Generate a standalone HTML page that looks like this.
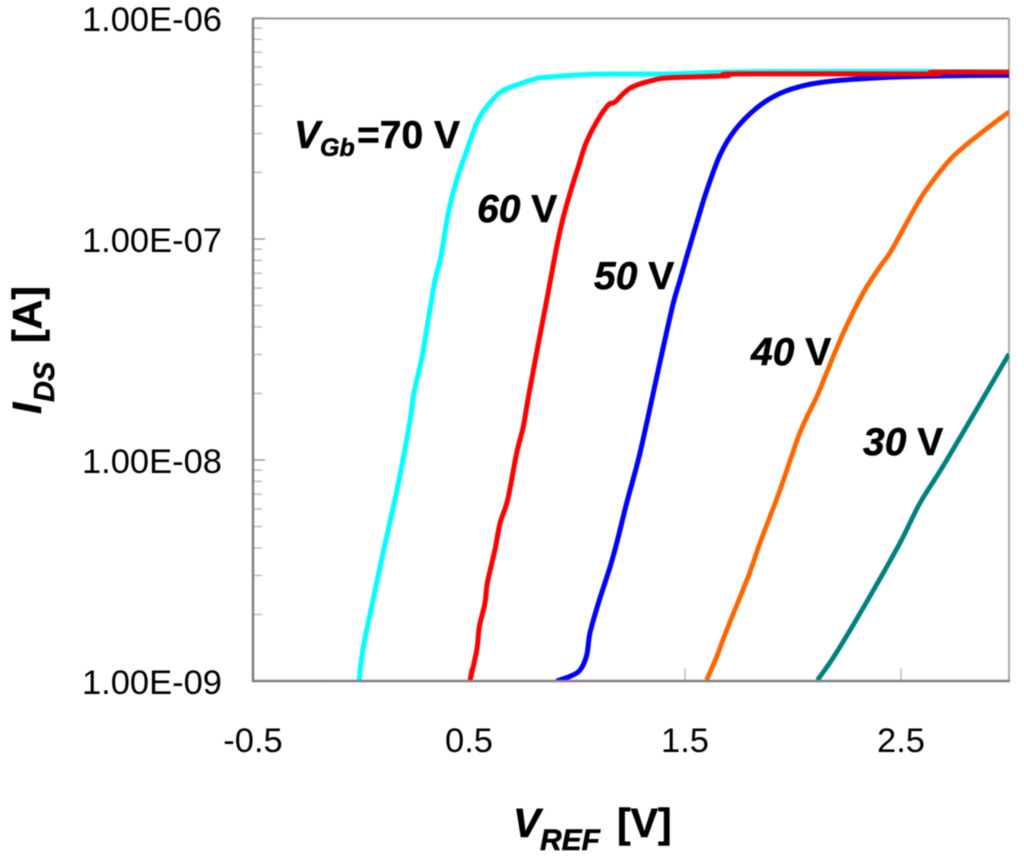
<!DOCTYPE html>
<html lang="en">
<head>
<meta charset="utf-8">
<title>IDS vs VREF transfer curves</title>
<style>
  html, body { margin: 0; padding: 0; background: #fff; }
  svg { display: block; filter: blur(0.4px); }
  text { font-family: "Liberation Sans", Arial, sans-serif; fill: #000; }
  .tick-label { font-size: 34.5px; }
  .b { font-weight: bold; stroke: #000; stroke-width: 0.5px; }
  .bi { font-weight: bold; font-style: italic; stroke: #000; stroke-width: 0.5px; }
</style>
</head>
<body>
<svg id="chart" xmlns="http://www.w3.org/2000/svg" width="1024" height="860" viewBox="0 0 1024 860">
  <defs>
    <clipPath id="plot-clip"><rect x="253" y="18" width="756" height="664"/></clipPath>
  </defs>
  <rect x="0" y="0" width="1024" height="860" fill="#ffffff"/>
  <g id="ticks"></g>
  <g id="frame">
    <line x1="253" y1="18.5" x2="1009" y2="18.5" stroke="#999999" stroke-width="2"/>
    <line x1="1009" y1="18" x2="1009" y2="681" stroke="#aaaaaa" stroke-width="2"/>
  </g>
  <g id="series" clip-path="url(#plot-clip)"></g>
  <g id="axes">
    <line x1="253" y1="18" x2="253" y2="682" stroke="#808080" stroke-width="2.5"/>
    <line x1="252" y1="681" x2="1010" y2="681" stroke="#808080" stroke-width="2.5"/>
  </g>
  <g id="tick-labels"></g>

  <g>
    <text class="bi" transform="translate(41,414) rotate(-90)" font-size="41">I</text>
    <text class="bi" transform="translate(54,402) rotate(-90)" font-size="29">DS</text>
    <text class="b" transform="translate(41,343) rotate(-90)" font-size="41">[A]</text>
  </g>
  <g>
    <text class="bi" x="513" y="837" font-size="41">V</text>
    <text class="bi" x="540" y="850" font-size="30">REF</text>
    <text class="b" x="617" y="837" font-size="41">[V]</text>
  </g>

  <g>
    <text class="bi" x="294" y="148" font-size="39">V</text>
    <text class="bi" x="320" y="156" font-size="25">Gb</text>
    <text class="b" x="357" y="148" font-size="39">=70 V</text>
  </g>
  <text x="477" y="222" font-size="39" class="b" xml:space="preserve"><tspan class="bi">60</tspan> V</text>
  <text x="594" y="289" font-size="39" class="b" xml:space="preserve"><tspan class="bi">50</tspan> V</text>
  <text x="751" y="365" font-size="39" class="b" xml:space="preserve"><tspan class="bi">40</tspan> V</text>
  <text x="863" y="455" font-size="39" class="b" xml:space="preserve"><tspan class="bi">30</tspan> V</text>
</svg>

<script>
// Axis tick values and labels
const xTickValues = [-0.5, 0.5, 1.5, 2.5];
const xTickLabels = ["-0.5", "0.5", "1.5", "2.5"];
const yTickValues = [1e-6, 1e-7, 1e-8, 1e-9];
const yTickLabels = ["1.00E-06", "1.00E-07", "1.00E-08", "1.00E-09"];
const yMinorMultipliers = [2, 3, 4, 5, 6, 7, 8, 9];

// Series: VGb = 70 V
const vref70 = [-0.009, 0.011, 0.056, 0.102, 0.157, 0.194, 0.230, 0.245, 0.282, 0.306, 0.343, 0.370, 0.404, 0.443, 0.486, 0.536, 0.582, 0.648, 0.721, 0.806, 0.852, 1.091, 1.431, 1.832, 3.0];
const ids70 = [1.01e-9, 1.43e-9, 2.33e-9, 3.80e-9, 6.60e-9, 1.00e-8, 1.57e-8, 2.01e-8, 2.90e-8, 4.00e-8, 6.53e-8, 8.30e-8, 1.31e-7, 1.85e-7, 2.45e-7, 3.35e-7, 3.96e-7, 4.63e-7, 4.98e-7, 5.30e-7, 5.39e-7, 5.57e-7, 5.58e-7, 5.72e-7, 5.72e-7];

// Isolated noise-floor reading of the 70 V sweep
const vref70Noise = [-0.19, -0.18];
const ids70Noise = [1.0e-9, 1.0e-9];

// Series: VGb = 60 V
const vref60 = [0.505, 0.536, 0.548, 0.574, 0.585, 0.620, 0.644, 0.679, 0.721, 0.751, 0.775, 0.813, 0.860, 0.906, 0.937, 0.975, 1.006, 1.042, 1.091, 1.145, 1.176, 1.245, 1.346, 1.438, 1.693, 1.747, 2.619, 2.648, 3.0];
const ids60 = [1.01e-9, 1.38e-9, 1.76e-9, 2.25e-9, 2.78e-9, 3.92e-9, 5.19e-9, 6.60e-9, 1.08e-8, 1.41e-8, 1.93e-8, 3.05e-8, 5.30e-8, 9.21e-8, 1.26e-7, 1.70e-7, 2.12e-7, 2.72e-7, 3.39e-7, 4.04e-7, 4.17e-7, 4.81e-7, 5.21e-7, 5.37e-7, 5.48e-7, 5.59e-7, 5.58e-7, 5.68e-7, 5.68e-7];

// Series: VGb = 50 V
const vref50 = [0.906, 0.968, 1.014, 1.045, 1.060, 1.099, 1.153, 1.184, 1.230, 1.292, 1.366, 1.400, 1.446, 1.477, 1.508, 1.554, 1.600, 1.662, 1.731, 1.832, 1.940, 2.063, 2.202, 2.434, 2.694, 3.0];
const ids50 = [1.00e-9, 1.05e-9, 1.12e-9, 1.31e-9, 1.65e-9, 2.25e-9, 3.28e-9, 4.21e-9, 6.39e-9, 1.08e-8, 2.30e-8, 3.26e-8, 5.14e-8, 6.53e-8, 8.33e-8, 1.18e-7, 1.65e-7, 2.40e-7, 3.11e-7, 3.92e-7, 4.56e-7, 4.98e-7, 5.21e-7, 5.39e-7, 5.47e-7, 5.51e-7];

// Series: VGb = 40 V
const vref40 = [1.600, 1.647, 1.693, 1.793, 1.847, 1.940, 2.032, 2.110, 2.148, 2.233, 2.325, 2.403, 2.457, 2.573, 2.634, 2.735, 2.850, 3.0];
const ids40 = [1.01e-9, 1.29e-9, 1.70e-9, 2.97e-9, 4.21e-9, 7.32e-9, 1.33e-8, 1.93e-8, 2.38e-8, 3.76e-8, 5.70e-8, 7.50e-8, 8.93e-8, 1.43e-7, 1.76e-7, 2.33e-7, 2.91e-7, 3.76e-7];

// Series: VGb = 30 V
const vref30 = [2.113, 2.194, 2.341, 2.495, 2.588, 2.712, 3.0];
const ids30 = [1.01e-9, 1.31e-9, 2.28e-9, 4.21e-9, 6.39e-9, 1.00e-8, 3.02e-8];

// Axis functions
const SVG_NS = "http://www.w3.org/2000/svg";
const plotLeft = 253, plotRight = 1009, plotTop = 18, plotBottom = 681;
const xDomainMin = -0.5, xDomainMax = 3.0;
const yDecadeMax = -6, yDecadeMin = -9;

function xScale(v) {
  return plotLeft + (v - xDomainMin) / (xDomainMax - xDomainMin) * (plotRight - plotLeft);
}
function yScale(i) {
  return plotTop + (yDecadeMax - Math.log10(i)) / (yDecadeMax - yDecadeMin) * (plotBottom - plotTop);
}

const ticksGroup = document.getElementById("ticks");
const labelsGroup = document.getElementById("tick-labels");
const seriesGroup = document.getElementById("series");

function addLine(parent, x1, y1, x2, y2, stroke, width) {
  const ln = document.createElementNS(SVG_NS, "line");
  ln.setAttribute("x1", x1);
  ln.setAttribute("y1", y1);
  ln.setAttribute("x2", x2);
  ln.setAttribute("y2", y2);
  ln.setAttribute("stroke", stroke);
  ln.setAttribute("stroke-width", width);
  parent.appendChild(ln);
  return ln;
}

// Y major ticks and labels
yTickValues.forEach(function (val, idx) {
  const y = yScale(val);
  const tick = addLine(ticksGroup, plotLeft, y, plotLeft + 12, y, "#999999", 1.5);
  
  
  const t = document.createElementNS(SVG_NS, "text");
  t.setAttribute("class", "tick-label");
  t.setAttribute("x", 222);
  t.setAttribute("y", y + 13);
  t.setAttribute("text-anchor", "end");
  t.textContent = yTickLabels[idx];
  
  
  labelsGroup.appendChild(t);
});

// Y minor ticks
yTickValues.slice(1).forEach(function (decade) {
  yMinorMultipliers.forEach(function (m) {
    const y = yScale(decade * m);
    const tick = addLine(ticksGroup, plotLeft, y, plotLeft + 9, y, "#b0b0b0", 1.2);
    
    
  });
});

// X ticks and labels
xTickValues.forEach(function (val, idx) {
  const x = xScale(val);
  const tick = addLine(ticksGroup, x, plotBottom - 13, x, plotBottom, "#bbbbbb", 1.5);
  
  
  const t = document.createElementNS(SVG_NS, "text");
  t.setAttribute("class", "tick-label");
  t.setAttribute("x", x);
  t.setAttribute("y", 752);
  t.setAttribute("text-anchor", "middle");
  t.textContent = xTickLabels[idx];
  
  
  labelsGroup.appendChild(t);
});

// Series lines, smoothed through the data points with a Catmull-Rom spline
function drawSeries(xs, ys, color, width) {
  const p = document.createElementNS(SVG_NS, "path");
  const px = xs.map(xScale);
  const py = ys.map(yScale);
  const n = xs.length;
  let d = "M" + px[0].toFixed(2) + "," + py[0].toFixed(2);
  for (let i = 0; i < n - 1; i++) {
    const i0 = Math.max(i - 1, 0), i3 = Math.min(i + 2, n - 1);
    const c1x = px[i] + (px[i + 1] - px[i0]) / 6;
    const c1y = py[i] + (py[i + 1] - py[i0]) / 6;
    const c2x = px[i + 1] - (px[i3] - px[i]) / 6;
    const c2y = py[i + 1] - (py[i3] - py[i]) / 6;
    d += " C" + c1x.toFixed(2) + "," + c1y.toFixed(2) + " " + c2x.toFixed(2) + "," + c2y.toFixed(2) + " " + px[i + 1].toFixed(2) + "," + py[i + 1].toFixed(2);
  }
  p.setAttribute("d", d);
  p.setAttribute("fill", "none");
  p.setAttribute("stroke", color);
  p.setAttribute("stroke-width", width);
  p.setAttribute("stroke-linejoin", "round");
  seriesGroup.appendChild(p);
  return p;
}

const line30 = drawSeries(vref30, ids30, "#008080", 4.8);



const line40 = drawSeries(vref40, ids40, "#ff6600", 4.8);



const line70noise = drawSeries(vref70Noise, ids70Noise, "#00ffff", 3);



const line70 = drawSeries(vref70, ids70, "#00ffff", 5);



const line50 = drawSeries(vref50, ids50, "#0000ff", 5);



const line60 = drawSeries(vref60, ids60, "#ff0000", 5);


</script>
</body>
</html>
